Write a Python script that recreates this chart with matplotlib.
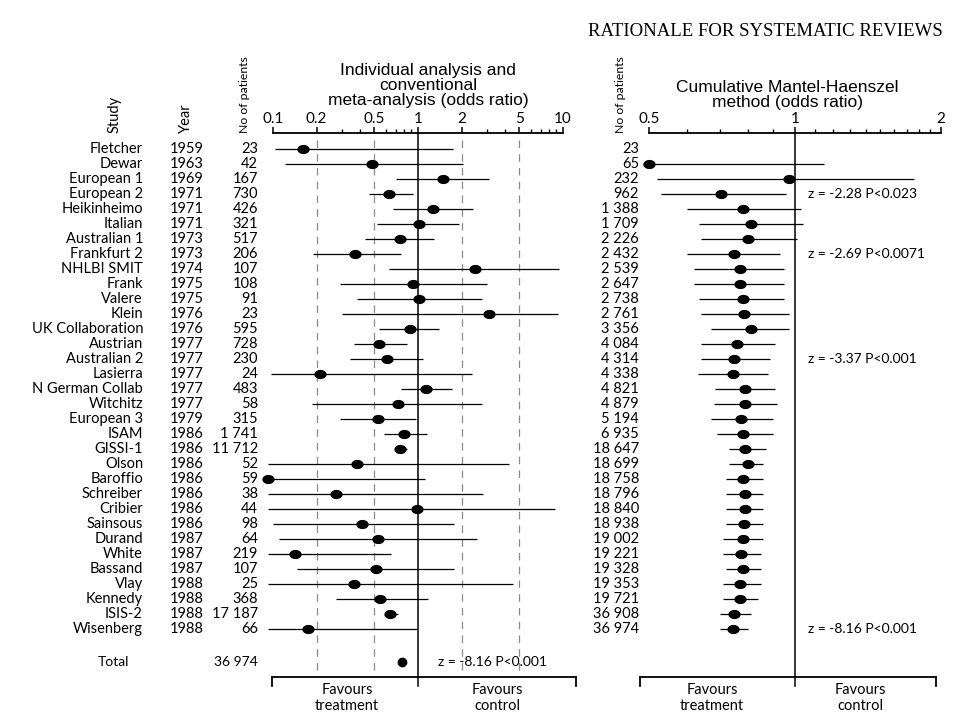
import numpy as np
import matplotlib
matplotlib.use("Agg")
import matplotlib.pyplot as plt
from matplotlib.path import Path
from matplotlib.lines import Line2D
import matplotlib.transforms as mtransforms
from matplotlib.ticker import FixedLocator, FixedFormatter, NullFormatter

# ---------------- data ----------------
studies = ["Fletcher", "Dewar", "European 1", "European 2", "Heikinheimo", "Italian",
           "Australian 1", "Frankfurt 2", "NHLBI SMIT", "Frank", "Valere", "Klein",
           "UK Collaboration", "Austrian", "Australian 2", "Lasierra", "N German Collab",
           "Witchitz", "European 3", "ISAM", "GISSI-1", "Olson", "Baroffio", "Schreiber",
           "Cribier", "Sainsous", "Durand", "White", "Bassand", "Vlay", "Kennedy",
           "ISIS-2", "Wisenberg"]
years = [1959, 1963, 1969, 1971, 1971, 1971, 1973, 1973, 1974, 1975, 1975, 1976,
         1976, 1977, 1977, 1977, 1977, 1977, 1979, 1986, 1986, 1986, 1986, 1986,
         1986, 1986, 1987, 1987, 1987, 1988, 1988, 1988, 1988]
n_patients = [23, 42, 167, 730, 426, 321, 517, 206, 107, 108, 91, 23, 595, 728, 230,
              24, 483, 58, 315, 1741, 11712, 52, 59, 38, 44, 98, 64, 219, 107, 25,
              368, 17187, 66]
# individual odds ratios and 95% CI
or_ind = [0.16, 0.48, 1.48, 0.63, 1.26, 1.02, 0.75, 0.37, 2.47, 0.93, 1.02, 3.1,
          0.88, 0.54, 0.61, 0.21, 1.14, 0.73, 0.53, 0.80, 0.75, 0.38, 0.092, 0.27,
          0.99, 0.41, 0.53, 0.142, 0.51, 0.36, 0.55, 0.64, 0.175]
lo_ind = [0.103, 0.121, 0.71, 0.46, 0.67, 0.52, 0.43, 0.19, 0.63, 0.29, 0.38, 0.30,
          0.54, 0.36, 0.34, 0.097, 0.76, 0.185, 0.29, 0.58, 0.69, 0.092, 0.092, 0.093,
          0.093, 0.10, 0.11, 0.093, 0.146, 0.093, 0.27, 0.59, 0.093]
hi_ind = [1.74, 2.05, 3.1, 0.93, 2.38, 1.93, 1.29, 0.76, 9.4, 2.98, 2.75, 9.3,
          1.40, 0.84, 1.08, 2.35, 1.71, 2.75, 0.97, 1.15, 0.84, 4.27, 1.12, 2.82,
          8.8, 1.78, 2.54, 0.65, 1.78, 4.5, 1.18, 0.73, 0.98]
total_n = 36974
total_or = 0.78
# cumulative Mantel-Haenszel odds ratios and 95% CI (first is off scale)
or_cum = [np.nan, 0.50, 0.97, 0.705, 0.78, 0.81, 0.80, 0.75, 0.77, 0.77, 0.78, 0.785,
          0.81, 0.76, 0.75, 0.745, 0.79, 0.79, 0.775, 0.78, 0.79, 0.80, 0.78, 0.79,
          0.79, 0.785, 0.78, 0.775, 0.78, 0.77, 0.77, 0.75, 0.745]
lo_cum = [np.nan, 0.485, 0.52, 0.53, 0.60, 0.635, 0.64, 0.60, 0.62, 0.62, 0.635, 0.64,
          0.67, 0.64, 0.64, 0.63, 0.685, 0.68, 0.67, 0.69, 0.73, 0.73, 0.72, 0.72,
          0.72, 0.72, 0.71, 0.71, 0.72, 0.71, 0.71, 0.70, 0.70]
hi_cum = [np.nan, 1.15, 1.76, 0.96, 1.03, 1.04, 1.01, 0.93, 0.95, 0.95, 0.95, 0.97,
          0.97, 0.91, 0.89, 0.88, 0.91, 0.92, 0.90, 0.90, 0.87, 0.86, 0.86, 0.86,
          0.86, 0.86, 0.86, 0.85, 0.85, 0.85, 0.84, 0.81, 0.80]
z_notes = [(4, "z = -2.28 P<0.023"), (8, "z = -2.69 P<0.0071"),
           (15, "z = -3.37 P<0.001"), (33, "z = -8.16 P<0.001")]
total_note = "z = -8.16 P<0.001"
ticks_left = [0.1, 0.2, 0.5, 1, 2, 5, 10]
ticklabels_left = ["0.1", "0.2", "0.5", "1", "2", "5", "10"]
ticks_right = [0.5, 1, 2]
ticklabels_right = ["0.5", "1", "2"]

# ---------------- layout helpers ----------------
W, H = 960, 720
def fx(px): return px / W
def fy(py): return 1 - py / H
ROW0, DROW = 149.0, 15.0
TOP, BOT = 133.0, 700.0
def prow(py): return 1 + (py - ROW0) / DROW

def fmt(n):
    return f"{n:,}".replace(",", " ")

SANS = ["Lato", "DejaVu Sans"]
HEAD = ["Liberation Sans", "DejaVu Sans"]
plt.rcParams['font.family'] = SANS

fig = plt.figure(figsize=(9.6, 7.2), dpi=100)
fig.patch.set_facecolor("white")

t = np.linspace(0, 2 * np.pi, 40)
ell = Path(np.column_stack([np.cos(t), 0.72 * np.sin(t)]))

rows = np.arange(1, len(studies) + 1)

def make_axes(x0, x1, xlim, ticks, labels, minors):
    ax = fig.add_axes([fx(x0), fy(BOT), (x1 - x0) / W, (BOT - TOP) / H])
    ax.set_xscale("log")
    ax.set_xlim(*xlim)
    ax.set_ylim(prow(BOT), prow(TOP))
    for s in ["left", "right", "bottom"]:
        ax.spines[s].set_visible(False)
    ax.spines["top"].set_linewidth(1.3)
    ax.xaxis.set_ticks_position("top")
    ax.xaxis.set_major_locator(FixedLocator(ticks))
    ax.xaxis.set_major_formatter(FixedFormatter(labels))
    ax.xaxis.set_minor_locator(FixedLocator(minors))
    ax.xaxis.set_minor_formatter(NullFormatter())
    ax.tick_params(axis="x", which="major", direction="out", length=4, width=1.1,
                   pad=1, labelsize=11)
    ax.tick_params(axis="x", which="minor", direction="out", length=3, width=1.0)
    ax.set_yticks([])
    ax.patch.set_alpha(0)
    return ax

ax1 = make_axes(273, 563, (0.1, 10), ticks_left, ticklabels_left,
                [0.3, 0.4, 0.6, 0.7, 0.8, 0.9, 3, 4, 6, 7, 8, 9])
ax2 = make_axes(649, 941, (0.5, 2), ticks_right, ticklabels_right,
                [0.6, 0.7, 0.8, 0.9, 1.1, 1.2, 1.3, 1.4, 1.5, 1.6, 1.7, 1.8, 1.9])

# reference lines
for v in [0.2, 0.5, 2, 5]:
    ax1.plot([v, v], [prow(140), prow(672)], color="#8a8a8a", lw=0.9,
             ls=(0, (6, 5)), zorder=1)
ax1.plot([1, 1], [prow(TOP), prow(686)], color="k", lw=1.1, clip_on=False, zorder=2)
ax2.plot([1, 1], [prow(TOP), prow(686)], color="k", lw=1.1, clip_on=False, zorder=2)

# individual studies
ax1.hlines(rows, lo_ind, hi_ind, color="k", lw=0.9, clip_on=False, zorder=3)
ax1.plot(or_ind, rows, ls="none", marker=ell, ms=7.8, color="k", clip_on=False, zorder=4)
total_row = prow(662)
ax1.plot([total_or], [total_row], ls="none", marker="o", ms=6, color="k", zorder=4)

# cumulative
ax2.hlines(rows, lo_cum, hi_cum, color="k", lw=0.9, clip_on=False, zorder=3)
ax2.plot(or_cum, rows, ls="none", marker=ell, ms=7.8, color="k", clip_on=False, zorder=4)

# ---------------- text ----------------
tr = mtransforms.blended_transform_factory(fig.transFigure, ax1.transData)
for r, s, y, n in zip(rows, studies, years, n_patients):
    fig.text(fx(143), r, s, transform=tr, ha="right", va="center", fontsize=10.5)
    fig.text(fx(170), r, str(y), transform=tr, ha="left", va="center", fontsize=10.5)
    fig.text(fx(258), r, fmt(n), transform=tr, ha="right", va="center", fontsize=10.5)
cum_n = np.cumsum(n_patients)
for r, c in zip(rows, cum_n):
    fig.text(fx(639), r, fmt(int(c)), transform=tr, ha="right", va="center", fontsize=10.5)
for r, note in z_notes:
    fig.text(fx(808), r, note, transform=tr, ha="left", va="center", fontsize=10)

fig.text(fx(98), total_row, "Total", transform=tr, ha="left", va="center", fontsize=10)
fig.text(fx(258), total_row, fmt(total_n), transform=tr, ha="right", va="center", fontsize=10)
fig.text(fx(438), total_row, total_note, transform=tr, ha="left", va="center", fontsize=10)

# headings
fig.text(fx(765), fy(31), "RATIONALE FOR SYSTEMATIC REVIEWS", ha="center", va="center",
         family=["Liberation Serif", "DejaVu Serif"], fontsize=13.5)
for i, line in enumerate(["Individual analysis and", "conventional",
                          "meta-analysis (odds ratio)"]):
    fig.text(fx(428), fy(70 + 15 * i), line, ha="center", va="center",
             family=HEAD, fontsize=12.5)
for i, line in enumerate(["Cumulative Mantel-Haenszel", "method (odds ratio)"]):
    fig.text(fx(787), fy(87 + 15.5 * i), line, ha="center", va="center",
             family=HEAD, fontsize=12.5)

for x, s, fs in [(115, "Study", 10.5), (186, "Year", 10.5),
                 (244, "No of patients", 8.8), (620, "No of patients", 8.8)]:
    fig.text(fx(x), fy(133), s, rotation=90, ha="center", va="bottom", fontsize=fs)

# brackets + favours labels
def bracket(x0, x1, y=677, d=9):
    fig.add_artist(Line2D([fx(x0), fx(x1)], [fy(y), fy(y)], color="k", lw=1.3,
                          transform=fig.transFigure))
    for x in (x0, x1):
        fig.add_artist(Line2D([fx(x), fx(x)], [fy(y), fy(y + d)], color="k", lw=1.3,
                              transform=fig.transFigure))

bracket(272, 576)
bracket(640, 936)
for x, s in [(347, "Favours\ntreatment"), (497, "Favours\ncontrol"),
             (712, "Favours\ntreatment"), (860, "Favours\ncontrol")]:
    fig.text(fx(x), fy(683), s, ha="center", va="top", fontsize=10.5, linespacing=1.2)

fig.savefig("out.png", dpi=100, facecolor="white")
